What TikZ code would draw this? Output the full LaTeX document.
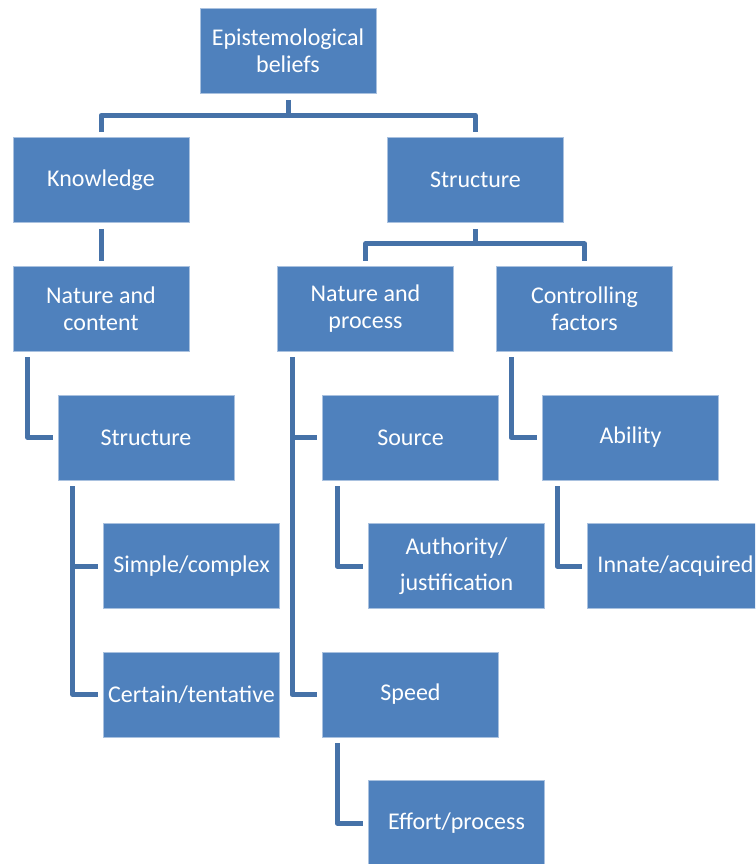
\documentclass[tikz,border=0pt]{standalone}
\usepackage{fontspec}
\setmainfont{Carlito}
\usepackage{tikz}
\usetikzlibrary{positioning,calc}
\definecolor{boxfill}{HTML}{4F81BD}
\definecolor{boxedge}{HTML}{A9C1DF}
\definecolor{linkcol}{HTML}{4672A8}
\tikzset{box/.style={
         draw=boxedge,line width=0.8pt,fill=boxfill,text=white,align=center,
         minimum width=176pt,minimum height=85pt,inner sep=0pt,
         font=\fontsize{24}{27}\selectfont}}
\tikzset{link/.style={
         draw=linkcol,line width=5pt,line join=round}}

\begin{document}
\begin{tikzpicture}[x=1pt,y=-1pt]
\clip (0,0) rectangle (755,864);

% boxes
\node at (288,51) [box] (epi) {Epistemological\\beliefs};
\node at (101,180) [box] (know) {Knowledge};
\node at (475.5,180) [box] (struct) {Structure};
\node at (101,308.5) [box] (natcont) {Nature and\\content};
\node at (365.5,308.5) [box] (natproc) {Nature and\\process};
\node at (584.5,308.5) [box] (ctrl) {Controlling\\factors};
\node at (146,437.5) [box] (structL) {Structure};
\node at (410.5,437.5) [box] (source) {Source};
\node at (630.5,437.5) [box] (ability) {Ability};
\node at (191.5,566) [box] (simple) {Simple/complex};
\node at (456.5,566) [box] (auth) {Authority/\\[9pt]justification};
\node at (675.5,566) [box] (innate) {Innate/acquired};
\node at (191.5,694.5) [box] (certain) {Certain/tentative};
\node at (410.5,694.5) [box] (speed) {Speed};
\node at (456.5,823) [box] (effort) {Effort/process};

% top level
\coordinate (epibus) at ([yshift=-21.5pt]epi.south);
\draw [link] ([yshift=-6pt]epi.south) -- (epibus);
\draw [link] ([yshift=5pt]know.north) |- (epibus) -| ([yshift=5pt]struct.north);
\draw [link] ([yshift=-6pt]know.south) -- ([yshift=5pt]natcont.north);

% structure branch
\coordinate (structbus) at ([yshift=-21pt]struct.south);
\draw [link] ([yshift=-6pt]struct.south) -- (structbus);
\draw [link] ([yshift=5pt]natproc.north) |- (structbus) -| ([yshift=5pt]ctrl.north);

% elbows under each box
\draw [link] ([xshift=15pt,yshift=-6pt]natcont.south west) |- ([xshift=-5pt]structL.west);
\draw [link] ([xshift=15pt,yshift=-6pt]structL.south west) |- ([xshift=-5pt]simple.west);
\draw [link] ([xshift=15pt,yshift=-6pt]structL.south west) |- ([xshift=-5pt]certain.west);
\draw [link] ([xshift=15pt,yshift=-6pt]natproc.south west) |- ([xshift=-5pt]source.west);
\draw [link] ([xshift=15pt,yshift=-6pt]natproc.south west) |- ([xshift=-5pt]speed.west);
\draw [link] ([xshift=15pt,yshift=-6pt]source.south west) |- ([xshift=-5pt]auth.west);
\draw [link] ([xshift=15pt,yshift=-6pt]speed.south west) |- ([xshift=-5pt]effort.west);
\draw [link] ([xshift=15pt,yshift=-6pt]ctrl.south west) |- ([xshift=-5pt]ability.west);
\draw [link] ([xshift=15pt,yshift=-6pt]ability.south west) |- ([xshift=-5pt]innate.west);

\end{tikzpicture}
\end{document}
